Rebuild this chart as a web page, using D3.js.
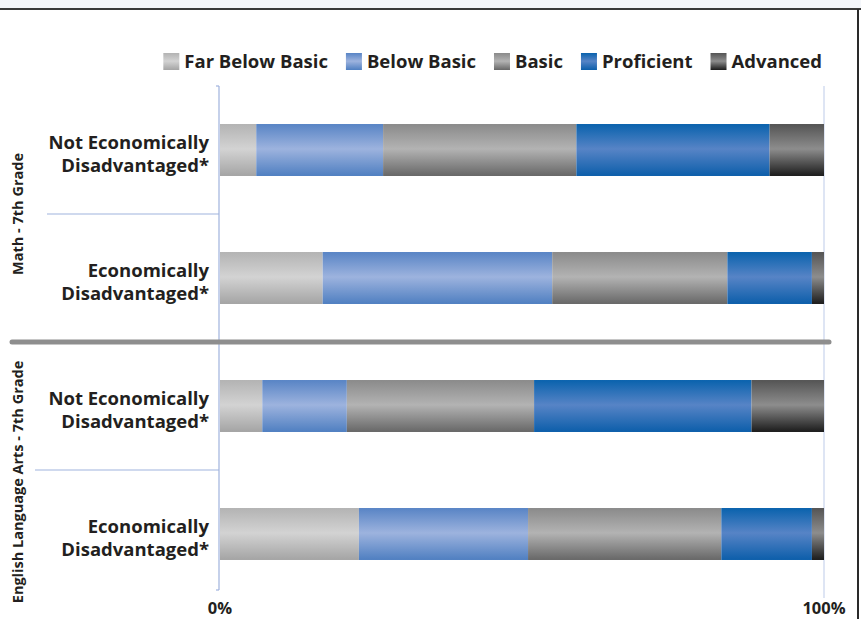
<!DOCTYPE html>
<html>
<head>
<meta charset="utf-8">
<script src="https://cdn.jsdelivr.net/npm/d3@7"></script>
<style>
body { margin: 0; background: #fff; }
text { font-family: "Open Sans", Lato, sans-serif; font-weight: bold; fill: #231f20; }
</style>
</head>
<body>
<div id="chart"></div>
<script>
//DATA
var groups = ["Math - 7th Grade", "English Language Arts - 7th Grade"];
var rowGroup = [0, 0, 1, 1];
var rowLabels = [
    ["Not Economically", "Disadvantaged*"],
    ["Economically", "Disadvantaged*"],
    ["Not Economically", "Disadvantaged*"],
    ["Economically", "Disadvantaged*"]
];
var seriesNames = ["Far Below Basic", "Below Basic", "Basic", "Proficient", "Advanced"];
var farBelowBasic = [6, 17, 7, 23];
var belowBasic = [21, 38, 14, 28];
var basic = [32, 29, 31, 32];
var proficient = [32, 14, 36, 15];
var advanced = [9, 2, 12, 2];
var tickValues = [0, 100];

// gradient colours per series (top, middle, bottom)
var shades = [
    ["#b3b3b3", "#d3d3d3", "#a4a4a4"],
    ["#5884c5", "#9db3de", "#4f7fc1"],
    ["#8a8a8a", "#b3b3b3", "#676767"],
    ["#0962ad", "#5784c6", "#0c5eaa"],
    ["#545454", "#8d8d8d", "#1b1b1b"]
];

var W = 861, H = 619;
var margin = { top: 86, right: 37, bottom: 21, left: 220 };

var table = rowLabels.map(function(d, i) {
    return {
        row: i,
        "Far Below Basic": farBelowBasic[i],
        "Below Basic": belowBasic[i],
        "Basic": basic[i],
        "Proficient": proficient[i],
        "Advanced": advanced[i]
    };
});

var svg = d3.select("#chart").append("svg")
    .attr("width", W)
    .attr("height", H);

var defs = svg.append("defs");
shades.forEach(function(s, i) {
    var g = defs.append("linearGradient")
        .attr("id", "grad" + i)
        .attr("x1", 0).attr("y1", 0).attr("x2", 0).attr("y2", 1);
    g.append("stop").attr("offset", "0%").attr("stop-color", s[0]);
    g.append("stop").attr("offset", "48%").attr("stop-color", s[1]);
    g.append("stop").attr("offset", "100%").attr("stop-color", s[2]);
});

// frame bits
svg.append("rect").attr("x", 0).attr("y", 0).attr("width", W).attr("height", 8).style("fill", "#f4f6fa");
svg.append("line").attr("x1", 0).attr("x2", W).attr("y1", 9).attr("y2", 9)
    .style("stroke", "#3a3a3a").style("stroke-width", 2);
svg.append("line").attr("x1", 858).attr("x2", 858).attr("y1", 9).attr("y2", H)
    .style("stroke", "#2a2a2a").style("stroke-width", 2);

var x = d3.scaleLinear()
    .domain([0, 100])
    .range([margin.left, W - margin.right]);

var y = d3.scaleBand()
    .domain(d3.range(rowLabels.length))
    .range([margin.top, H - margin.bottom])
    .paddingInner(0.594)
    .paddingOuter(0.297);

var step = y.step();

// 100% gridline
svg.append("line")
    .attr("x1", x(100)).attr("x2", x(100))
    .attr("y1", margin.top).attr("y2", H - margin.bottom)
    .style("stroke", "#d3dcf0").style("stroke-width", 1.5);

// bars
var stack = d3.stack().keys(seriesNames);
var layers = stack(table);

svg.selectAll("g.layer")
    .data(layers)
    .enter()
    .append("g")
    .attr("class", "layer")
    .style("fill", function(d, i) { return "url(#grad" + i + ")"; })
    .selectAll("rect")
    .data(function(d) { return d; })
    .enter()
    .append("rect")
    .attr("x", function(d) { return x(d[0]); })
    .attr("width", function(d) { return x(d[1]) - x(d[0]); })
    .attr("y", function(d) { return y(d.data.row); })
    .attr("height", y.bandwidth());

// axis line (left)
svg.append("line")
    .attr("x1", margin.left - 1).attr("x2", margin.left - 1)
    .attr("y1", margin.top).attr("y2", H - margin.bottom - 8)
    .style("stroke", "#9fb3dd").style("stroke-width", 1.2);
svg.append("line")
    .attr("x1", margin.left - 4).attr("x2", margin.left - 1)
    .attr("y1", margin.top).attr("y2", margin.top)
    .style("stroke", "#9fb3dd").style("stroke-width", 1.2);
svg.append("line")
    .attr("x1", margin.left - 4).attr("x2", margin.left - 1)
    .attr("y1", H - margin.bottom - 8).attr("y2", H - margin.bottom - 8)
    .style("stroke", "#9fb3dd").style("stroke-width", 1.2);

// separators between rows inside a group
var sepLeft = [47, 35];
groups.forEach(function(g, gi) {
    var rows = rowGroup.map(function(r, i) { return r == gi ? i : -1; }).filter(function(i) { return i >= 0; });
    var yy = y(rows[0]) - (step - y.bandwidth()) / 2 + step;
    svg.append("line")
        .attr("x1", sepLeft[gi]).attr("x2", margin.left - 1)
        .attr("y1", yy).attr("y2", yy)
        .style("stroke", "#9fb3dd").style("stroke-width", 1.2);

    var mid = y(rows[0]) - (step - y.bandwidth()) / 2 + step * rows.length / 2;
    svg.append("text")
        .attr("transform", "translate(23," + (mid + gi * 12) + ") rotate(-90)")
        .attr("text-anchor", "middle")
        .style("font-size", "14.5px")
        .text(g);
});

// thick divider between groups
var divY = y(2) - (step - y.bandwidth()) / 2;
svg.append("line")
    .attr("x1", 12).attr("x2", 829)
    .attr("y1", divY).attr("y2", divY)
    .style("stroke", "#8e8e8e").style("stroke-width", 5)
    .style("stroke-linecap", "round");

// row labels
rowLabels.forEach(function(lines, i) {
    var cy = y(i) + y.bandwidth() / 2;
    var t = svg.append("text")
        .attr("text-anchor", "end")
        .style("font-size", "18.5px");
    lines.forEach(function(l, j) {
        t.append("tspan")
            .attr("x", 209)
            .attr("y", cy - 1 + j * 23)
            .text(l);
    });
});

// x tick labels
svg.selectAll("text.tick")
    .data(tickValues)
    .enter()
    .append("text")
    .attr("class", "tick")
    .attr("x", function(d) { return x(d); })
    .attr("y", 614)
    .attr("text-anchor", "middle")
    .style("font-size", "16.5px")
    .text(function(d) { return d + "%"; });

// legend, right aligned
var legend = svg.append("g");
var lx = 0;
seriesNames.forEach(function(name, i) {
    var item = legend.append("g").attr("transform", "translate(" + lx + ",0)");
    item.append("rect")
        .attr("x", 0).attr("y", 53)
        .attr("width", 16).attr("height", 17)
        .style("fill", "url(#grad" + i + ")");
    var t = item.append("text")
        .attr("x", 21).attr("y", 68)
        .style("font-size", "18.5px")
        .text(name);
    lx += 21 + t.node().getComputedTextLength() + 18;
});
var lw = lx - 18;
legend.attr("transform", "translate(" + (822 - lw) + ",0)");
</script>
</body>
</html>
